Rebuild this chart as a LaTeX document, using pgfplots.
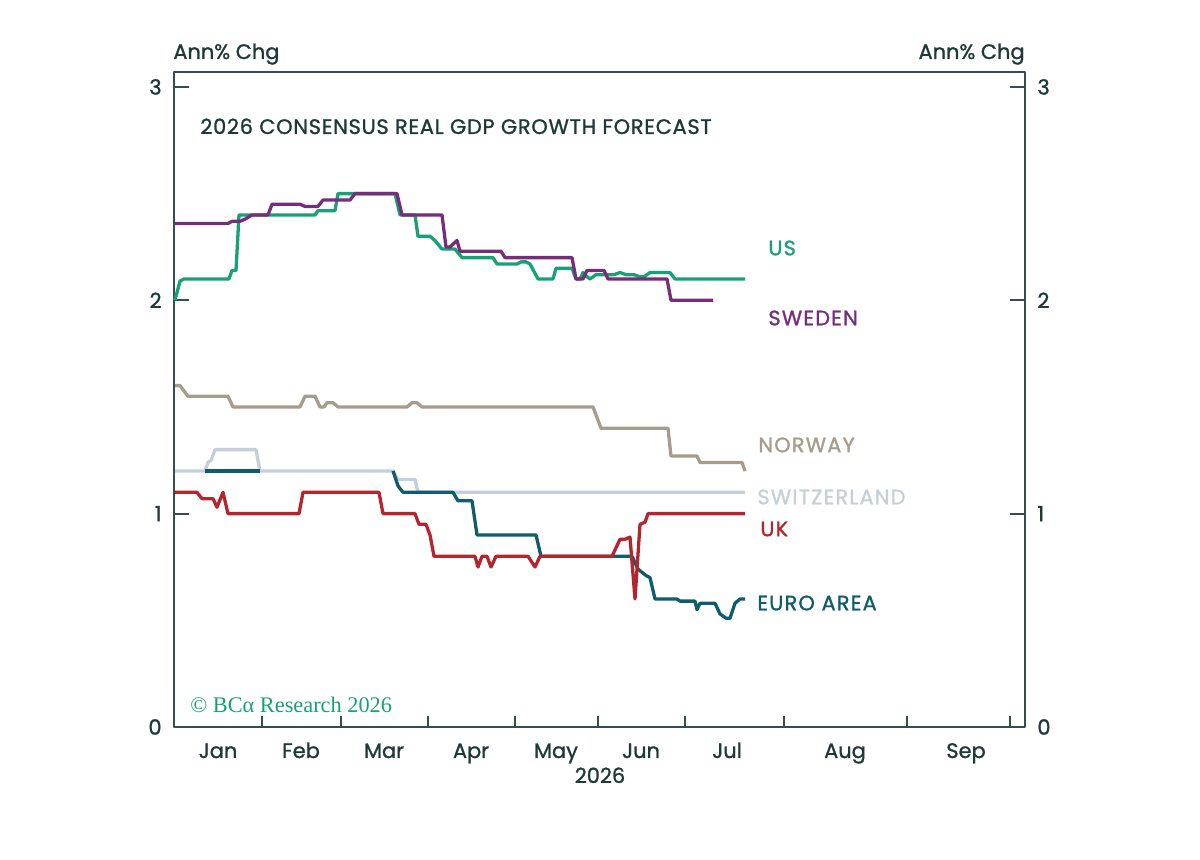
\documentclass[border=0pt]{standalone}
\usepackage{fontspec}
\setmainfont{Poppins}[FakeBold=1.2]
\newfontfamily\seriffont{Liberation Serif}
\newcommand\caps{\addfontfeature{LetterSpace=5.5}}
\usepackage{pgfplots}
\pgfplotsset{compat=1.18}
\definecolor{txt}{RGB}{30,58,56}
\definecolor{axcol}{RGB}{52,78,78}
\definecolor{cUS}{RGB}{24,160,120}
\definecolor{cSE}{RGB}{118,45,122}
\definecolor{cNO}{RGB}{167,155,138}
\definecolor{cCH}{RGB}{196,208,217}
\definecolor{cUK}{RGB}{180,38,45}
\definecolor{cEA}{RGB}{16,92,108}
\begin{document}
\fontsize{10.5}{12}\selectfont
\begin{tikzpicture}
\path[use as bounding box] (0,0) rectangle (600bp,430bp);
\begin{axis}[
  at={(87bp,66.5bp)}, anchor=south west,
  scale only axis, width=425.5bp, height=327.5bp,
  xmin=0, xmax=851, ymin=0, ymax=3.07,
  clip=false,
  axis line style={draw=axcol, line width=1bp},
  tick align=inside,
  xtick pos=left, ytick pos=both,
  ytick={0,1,2,3},
  major tick length=7.5bp,
  tick style={draw=axcol, line width=1bp},
  xtick={88,167,254,340.5,424,511,610,733,836},
  xticklabels={},
  xtick style={/pgfplots/major tick length=5.5bp},
  extra x ticks={44,127,210,297,382,467,553,671,792},
  extra x tick labels={Jan,Feb,Mar,Apr,May,Jun,Jul,Aug,Sep},
  extra x tick style={major tick length=0pt, tick style={draw=none}},
  xticklabel style={anchor=base, yshift=-15.5bp, text=txt, inner sep=0pt},
  yticklabel style={text=txt, inner sep=0pt, xshift=-6bp},
  /pgf/number format/assume math mode=true,
  line join=round,
]
\addplot[cCH, line width=1.65bp] coordinates {
(1,1.20) (31,1.20) (34,1.24) (37,1.25) (41,1.30) (82,1.30) (86,1.20) (219,1.20) (224,1.16) (241,1.16) (244,1.10) (571,1.10)};
\addplot[cEA, line width=1.65bp] coordinates {
(31,1.20) (86,1.20)};
\addplot[cNO, line width=1.65bp] coordinates {
(1,1.60) (6,1.60) (14,1.55) (54,1.55) (59,1.50) (126,1.50) (131,1.55) (141,1.55) (146,1.50) (150,1.50) (153,1.52) (159,1.52) (164,1.50) (233,1.50) (238,1.52) (243,1.52) (248,1.50) (419,1.50) (427,1.40) (494,1.40) (497,1.27) (523,1.27) (526,1.24) (568,1.24) (571,1.20)};
\addplot[cEA, line width=1.65bp] coordinates {
(219,1.20) (224,1.13) (229,1.10) (279,1.10) (284,1.06) (298,1.06) (303,0.90) (362,0.90) (367,0.80) (458,0.80) (464,0.74) (472,0.71) (476,0.70) (481,0.60) (503,0.60) (506,0.59) (521,0.59) (523,0.55) (526,0.58) (541,0.58) (546,0.53) (552,0.51) (556,0.51) (561,0.58) (566,0.60) (571,0.60)};
\addplot[cUK, line width=1.65bp] coordinates {
(1,1.10) (23,1.10) (28,1.07) (39,1.07) (43,1.03) (49,1.10) (54,1.00) (125,1.00) (129,1.10) (205,1.10) (209,1.00) (241,1.00) (245,0.95) (252,0.95) (256,0.90) (260,0.80) (301,0.80) (304,0.75) (308,0.80) (313,0.80) (317,0.75) (322,0.80) (354,0.80) (361,0.75) (366,0.80) (438,0.80) (446,0.88) (451,0.88) (456,0.89) (461,0.60) (466,0.95) (471,0.96) (474,1.00) (571,1.00)};
\addplot[cUS, line width=1.65bp] coordinates {
(1,2.00) (6,2.09) (10,2.10) (13,2.10) (55,2.10) (58,2.14) (62,2.14) (65,2.40) (141,2.40) (144,2.42) (161,2.42) (164,2.50) (221,2.50) (226,2.40) (241,2.40) (244,2.30) (256,2.30) (261,2.28) (268,2.24) (281,2.24) (288,2.20) (319,2.20) (323,2.17) (343,2.17) (347,2.18) (352,2.18) (356,2.17) (364,2.10) (379,2.10) (382,2.15) (398,2.15) (402,2.10) (406,2.10) (409,2.13) (413,2.11) (416,2.10) (422,2.12) (440,2.12) (446,2.13) (452,2.12) (460,2.12) (466,2.11) (470,2.11) (476,2.13) (496,2.13) (501,2.10) (571,2.10)};
\addplot[cSE, line width=1.65bp] coordinates {
(1,2.36) (54,2.36) (58,2.37) (66,2.37) (71,2.38) (78,2.40) (94,2.40) (98,2.45) (126,2.45) (131,2.44) (144,2.44) (149,2.47) (176,2.47) (181,2.50) (223,2.50) (228,2.40) (268,2.40) (272,2.25) (276,2.25) (283,2.28) (286,2.23) (327,2.23) (331,2.20) (398,2.20) (402,2.10) (409,2.10) (413,2.14) (430,2.14) (434,2.10) (493,2.10) (497,2.00) (539,2.00)};
\node[anchor=west, inner sep=0pt, text=cUS] at (axis cs:594,2.245) {\caps US};
\node[anchor=west, inner sep=0pt, text=cSE] at (axis cs:594,1.917) {\caps SWEDEN};
\node[anchor=west, inner sep=0pt, text=cNO] at (axis cs:584,1.322) {\caps NORWAY};
\node[anchor=west, inner sep=0pt, text=cCH] at (axis cs:583,1.078) {\caps SWITZERLAND};
\node[anchor=west, inner sep=0pt, text=cUK] at (axis cs:586,0.928) {\caps UK};
\node[anchor=west, inner sep=0pt, text=cEA] at (axis cs:583,0.581) {\caps EURO AREA};
\node[anchor=base, inner sep=0pt, text=txt] at (axis cs:426,0) [yshift=-28bp] {2026};
\end{axis}
\begin{axis}[
  at={(87bp,66.5bp)}, anchor=south west,
  scale only axis, width=425.5bp, height=327.5bp,
  xmin=0, xmax=851, ymin=0, ymax=3.07,
  axis line style={draw=none},
  xtick=\empty, ytick={0,1,2,3},
  major tick length=0pt, tick style={draw=none},
  yticklabel pos=right,
  yticklabel style={text=txt, inner sep=0pt, xshift=6bp},
  /pgf/number format/assume math mode=true,
]
\end{axis}
\node[anchor=base west, inner sep=0pt, text=txt] at (86.5bp,400.5bp) {Ann\% Chg};
\node[anchor=base east, inner sep=0pt, text=txt] at (512.5bp,400.5bp) {Ann\% Chg};
\node[anchor=base west, inner sep=0pt, text=txt] at (100bp,363bp) {\addfontfeature{LetterSpace=3.4}2026 CONSENSUS REAL GDP GROWTH FORECAST};
\node[anchor=base west, inner sep=0pt, text=cUS] at (95bp,73.5bp) {\fontsize{11.2}{13}\seriffont © BCα Research 2026};
\end{tikzpicture}
\end{document}
